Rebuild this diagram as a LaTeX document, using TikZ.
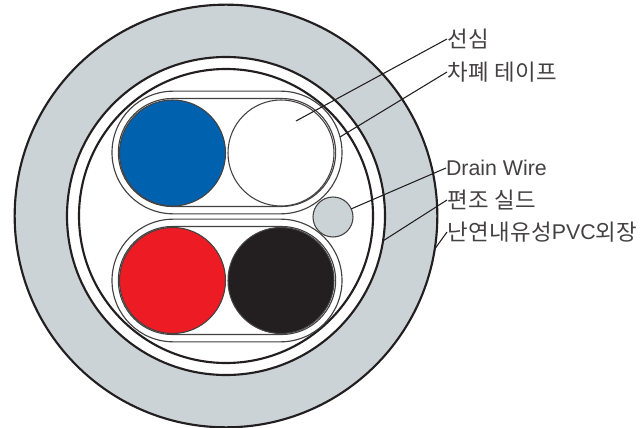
\documentclass[tikz,border=0pt]{standalone}
\usepackage{fontspec}
\setmainfont{Liberation Sans}
\newfontfamily\krfont{Noto Sans CJK KR}[Scale=1.05,LetterSpace=2]
\usetikzlibrary{positioning}
\definecolor{sheathgray}{HTML}{CCD3D6}
\definecolor{inkblack}{HTML}{231F20}
\definecolor{coreblue}{HTML}{0061AF}
\definecolor{corered}{HTML}{ED1C24}
\tikzset{
  ring/.style={circle,draw=inkblack,line width=1.6pt,inner sep=0pt,outer sep=0pt,fill=white},
  core/.style={circle,draw=inkblack!85,line width=.8pt,inner sep=0pt,outer sep=0pt,minimum size=79.5pt},
  capsule/.style={rectangle,draw=inkblack!85,line width=.85pt,inner sep=0pt,outer sep=0pt},
  leader/.style={draw=inkblack,line width=.8pt},
  tag/.style={anchor=west,inner sep=0pt,outer sep=0pt,text=inkblack!85,font=\fontsize{16}{16}\selectfont},
}
\begin{document}
\begin{tikzpicture}[x=.75pt,y=-.75pt]
  \useasboundingbox (0,0) rectangle (640,428);
  % cable body
  \node[ring,fill=sheathgray,minimum size=317pt] (sheath) at (226,216) {};
  \node[ring,minimum size=238.5pt] (shield) at (226,216) {};
  \node[ring,minimum size=220.5pt] (tape) at (226,216) {};
  % taped pairs
  \node[capsule,minimum width=172.5pt,minimum height=92pt,rounded corners=46pt] (upperouter) at (227,152.5) {};
  \node[capsule,minimum width=172.5pt,minimum height=92pt,rounded corners=46pt] (lowerouter) at (227,280.5) {};
  \node[capsule,minimum width=163pt,minimum height=81pt,rounded corners=40.5pt] (upperinner) at (227,152.5) {};
  \node[capsule,minimum width=163pt,minimum height=81pt,rounded corners=40.5pt] (lowerinner) at (227,280.5) {};
  % cores
  \node[core,fill=coreblue] (blue) at (172.5,153) {};
  \node[core,fill=white] (white) at (281,153) {};
  \node[core,fill=corered] (red) at (172.5,280.5) {};
  \node[core,fill=inkblack] (black) at (281,280.5) {};
  \node[core,fill=sheathgray,minimum size=30pt] (drain) at (333,217) {};
  % labels
  \node[tag] (l0) at (447,39) {\krfont 선심};
  \node[tag] (l1) at (447,72) {\krfont 차폐 테이프};
  \node[tag] (l2) at (446,168) {Drain Wire};
  \node[tag] (l3) at (447,200) {\krfont 편조 실드};
  \node[tag] (l4) at (447,232) {\krfont 난연내유성};
  \node[tag,anchor=west,right=0pt of l4.east] (l5) {PVC};
  \node[tag,anchor=west,right=0pt of l5.east] (l6) {\krfont 외장};
  % leaders
  \coordinate (c0) at (296,121);
  \coordinate (c1) at (340,137);
  \draw[leader] (c0) -- (l0.west);
  \draw[leader] (c1) -- (l1.west);
  \draw[leader] (drain.24) -- (l2.west);
  \draw[leader] (shield.-9) -- (l3.west);
  \draw[leader] (sheath.-9) -- (l4.west);
\end{tikzpicture}
\end{document}
